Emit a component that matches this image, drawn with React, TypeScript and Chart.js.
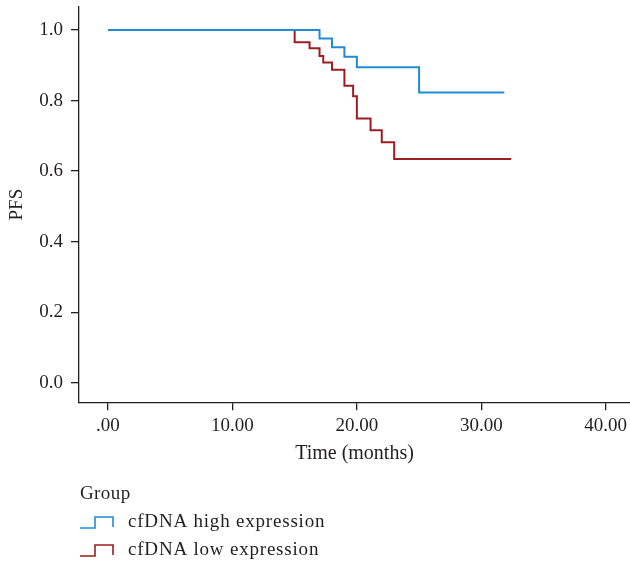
import React, { useEffect, useRef } from "react";
import { Chart, registerables } from "chart.js";

Chart.register(...registerables);

// Kaplan-Meier step data (time in months, PFS proportion)
const highTimes = [0, 17, 18, 19, 20, 25, 31.85];
const highSurvival = [1, 0.976, 0.951, 0.924, 0.894, 0.823, 0.823];
const lowTimes = [0, 15, 16.2, 17, 17.3, 18, 19, 19.7, 20, 21.1, 22, 23, 32.4];
const lowSurvival = [1, 0.965, 0.948, 0.926, 0.908, 0.887, 0.842, 0.812, 0.749, 0.716, 0.682, 0.634, 0.634];

const seriesNames = ["cfDNA high expression", "cfDNA low expression"];
const seriesColors = ["#2489d4", "#9c1c22"];
const xTicks = [0, 10, 20, 30, 40];
const yTicks = [0, 0.2, 0.4, 0.6, 0.8, 1.0];
const xTitle = "Time (months)";
const yTitle = "PFS";
const legendTitle = "Group";

const FONT = "'Liberation Serif', 'DejaVu Serif', serif";
const TEXT = "#231f20";

const legendPlugin = {
  id: "kmLegend",
  afterDraw(chart: any) {
    const ctx = chart.ctx;
    const left = chart.chartArea.left + 1;
    ctx.save();
    ctx.font = `19px ${FONT}`;
    ctx.fillStyle = TEXT;
    ctx.textBaseline = "middle";
    ctx.textAlign = "left";
    (ctx as any).letterSpacing = "0.4px";
    ctx.fillText(legendTitle, left, 494);
    (ctx as any).letterSpacing = "0.8px";
    const rows = [522, 550];
    seriesNames.forEach((name, i) => {
      const yc = rows[i];
      const lo = yc + 6;
      const hi = yc - 5;
      ctx.strokeStyle = seriesColors[i];
      ctx.lineWidth = 1.6;
      ctx.beginPath();
      ctx.moveTo(left, lo);
      ctx.lineTo(left + 15, lo);
      ctx.lineTo(left + 15, hi);
      ctx.lineTo(left + 33, hi);
      ctx.lineTo(left + 33, lo - 1);
      ctx.stroke();
      ctx.fillStyle = TEXT;
      ctx.fillText(name, left + 48, yc);
    });
    ctx.restore();
  },
};

export default function App() {
  const ref = useRef<HTMLCanvasElement | null>(null);

  useEffect(() => {
    document.body.style.margin = "0";
    const canvas = ref.current;
    if (!canvas) return;
    const chart = new Chart(canvas, {
      type: "line",
      data: {
        datasets: [
          {
            label: seriesNames[0],
            data: highTimes.map((t, i) => ({ x: t, y: highSurvival[i] })),
            borderColor: seriesColors[0],
            borderWidth: 2,
            pointRadius: 0,
            stepped: true,
            fill: false,
          },
          {
            label: seriesNames[1],
            data: lowTimes.map((t, i) => ({ x: t, y: lowSurvival[i] })),
            borderColor: seriesColors[1],
            borderWidth: 2,
            pointRadius: 0,
            stepped: true,
            fill: false,
          },
        ],
      },
      options: {
        responsive: false,
        animation: false,
        events: [],
        layout: { padding: { top: 7, left: 0, right: 0, bottom: 95 } },
        plugins: {
          legend: { display: false },
          tooltip: { enabled: false },
        },
        scales: {
          x: {
            type: "linear",
            min: -2.33,
            max: 41.95,
            afterBuildTicks: (s: any) => {
              s.ticks = xTicks.map((v) => ({ value: v }));
            },
            afterFit: (s: any) => {
              s.paddingLeft = 0;
              s.paddingRight = 0;
            },
            ticks: {
              autoSkip: false,
              maxRotation: 0,
              padding: 4,
              color: TEXT,
              font: { family: FONT, size: 19 },
              callback: (v: any) => (Number(v) === 0 ? ".00" : Number(v).toFixed(2)),
            },
            grid: { drawOnChartArea: false, drawTicks: true, tickLength: 8, color: TEXT, lineWidth: 1.3 },
            border: { display: true, color: TEXT, width: 1.3 },
            title: {
              display: true,
              text: xTitle,
              color: TEXT,
              font: { family: FONT, size: 20 },
              padding: { top: 1, bottom: 0 },
            },
          },
          y: {
            type: "linear",
            min: -0.0547,
            max: 1.065,
            afterBuildTicks: (s: any) => {
              s.ticks = yTicks.map((v) => ({ value: v }));
            },
            afterFit: (s: any) => {
              s.width = 79;
              s.paddingTop = 0;
              s.paddingBottom = 0;
            },
            ticks: {
              padding: 8,
              color: TEXT,
              font: { family: FONT, size: 19 },
              callback: (v: any) => Number(v).toFixed(1),
            },
            grid: { drawOnChartArea: false, drawTicks: true, tickLength: 8, color: TEXT, lineWidth: 1.3 },
            border: { display: true, color: TEXT, width: 1.3 },
            title: {
              display: true,
              text: yTitle,
              color: TEXT,
              font: { family: FONT, size: 19 },
              padding: { top: 6, bottom: 0 },
            },
          },
        },
      },
      plugins: [legendPlugin],
    });
    return () => chart.destroy();
  }, []);

  return <canvas ref={ref} width={630} height={561} style={{ display: "block" }} />;
}
